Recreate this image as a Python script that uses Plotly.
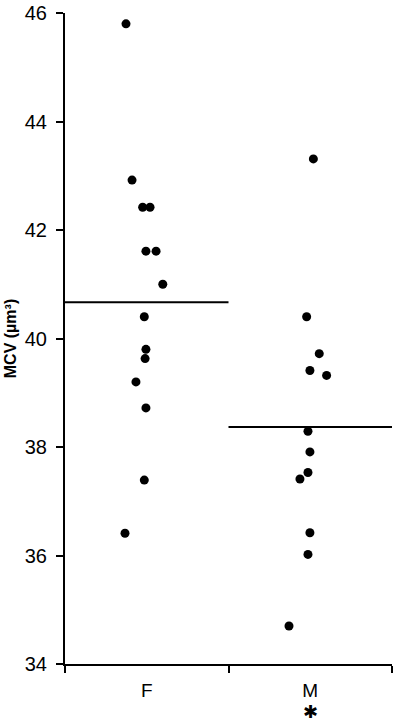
import plotly.graph_objects as go
import numpy as np

categories = ["F", "M"]
f_values = [45.8, 42.92, 42.42, 42.42, 41.61, 41.61, 41.0, 40.4, 39.8, 39.63, 39.2, 38.72, 37.39, 36.41]
f_jitter = [-0.127, -0.090, -0.025, 0.020, -0.005, 0.057, 0.098, -0.015, -0.005, -0.010, -0.066, -0.005, -0.015, -0.133]
m_values = [43.31, 40.40, 39.72, 39.41, 39.32, 38.29, 37.91, 37.53, 37.41, 36.42, 36.02, 34.70]
m_jitter = [0.019, -0.022, 0.055, -0.002, 0.100, -0.014, -0.002, -0.014, -0.063, -0.002, -0.014, -0.130]
y_ticks = [34, 36, 38, 40, 42, 44, 46]

FONT = "Liberation Sans, Arial, sans-serif"
fig = go.Figure()

groups = [(f_values, f_jitter), (m_values, m_jitter)]
for i, (vals, jit) in enumerate(groups):
    fig.add_trace(go.Scatter(
        x=[i + j for j in jit], y=vals, mode="markers",
        marker=dict(color="black", size=9), showlegend=False, hoverinfo="y"))
    mean = float(np.mean(vals))
    fig.add_trace(go.Scatter(
        x=[i - 0.5, i + 0.5], y=[mean, mean], mode="lines",
        line=dict(color="black", width=2), showlegend=False, hoverinfo="skip"))

fig.add_annotation(x=1, y=0, xref="x", yref="paper", yshift=-47, text="✱",
                   showarrow=False, font=dict(family="DejaVu Sans", size=18, color="black"),
                   yanchor="middle", borderpad=0)

fig.update_layout(
    width=394, height=722,
    margin=dict(l=65, r=2, t=10, b=58),
    paper_bgcolor="white", plot_bgcolor="white",
    font=dict(family=FONT, color="black"),
    xaxis=dict(
        range=[-0.5, 1.5], tickvals=[0, 1], ticktext=categories,
        ticks="", showgrid=False, zeroline=False,
        showline=True, linecolor="black", linewidth=2,
        tickfont=dict(size=19, color="black"), ticklabelstandoff=8,
        minor=dict(tickvals=[-0.5, 0.5, 1.5], ticks="outside", ticklen=7,
                   tickwidth=2, tickcolor="black", showgrid=False),
    ),
    yaxis=dict(
        range=[34, 46], tickvals=y_ticks, ticks="outside", ticklen=7,
        tickwidth=2, tickcolor="black", showgrid=False, zeroline=False,
        showline=True, linecolor="black", linewidth=2,
        tickfont=dict(size=20, color="black"), ticklabelstandoff=5,
        ticklabeloverflow="allow",
        title=dict(text="<b>MCV (µm³)</b>", font=dict(size=16, color="black"), standoff=4),
    ),
)

fig.write_html("out.html")
